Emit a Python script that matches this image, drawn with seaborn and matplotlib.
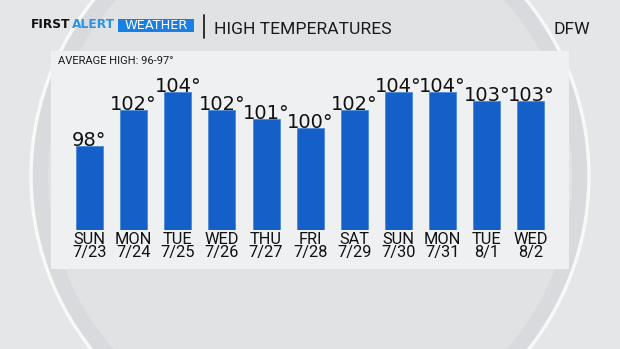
import matplotlib
matplotlib.use("Agg")
import matplotlib.pyplot as plt
from matplotlib.patches import Rectangle, Circle
import seaborn as sns
import pandas as pd

# ---- data ----
days = ["SUN", "MON", "TUE", "WED", "THU", "FRI", "SAT", "SUN", "MON", "TUE", "WED"]
dates = ["7/23", "7/24", "7/25", "7/26", "7/27", "7/28", "7/29", "7/30", "7/31", "8/1", "8/2"]
highs = [98, 102, 104, 102, 101, 100, 102, 104, 104, 103, 103]
title = "HIGH TEMPERATURES"
subtitle = "AVERAGE HIGH: 96-97°"
location = "DFW"

sns.set_theme(style="white")
plt.rcParams["font.family"] = ["Roboto", "DejaVu Sans"]

W, H = 620, 349
fig = plt.figure(figsize=(W / 100, H / 100), dpi=100)

# background layer in pixel coordinates
bg = fig.add_axes([0, 0, 1, 1])
bg.set_xlim(0, W)
bg.set_ylim(H, 0)
bg.axis("off")
bg.add_patch(Rectangle((0, 0), W, H, color="#e5e6e8", zorder=0))
bg.add_patch(Circle((310, 176), 279, facecolor="#d9dadd", edgecolor="#f8f8f9", lw=2.5, zorder=1))
bg.add_patch(Circle((310, 176), 262, facecolor="#e1e2e4", edgecolor="none", zorder=1.1))
bg.add_patch(Rectangle((51, 51), 518, 218, facecolor="#eef0f1", edgecolor="none", zorder=2))

# header
hdr = ["DejaVu Sans"]
bg.text(31, 28.5, "FIRST", fontsize=8.8, fontweight="bold", color="#111111", family=hdr, zorder=3)
bg.text(72, 28.5, "ALERT", fontsize=8.8, fontweight="bold", color="#2a93e6", family=hdr, zorder=3)
bg.add_patch(Rectangle((118, 19), 76, 12.5, facecolor="#1a7fe2", edgecolor="none", zorder=3))
bg.text(156, 29.3, "WEATHER", fontsize=9.3, color="white", ha="center", family=hdr, zorder=4)
bg.plot([204, 204], [15, 38], color="#222222", lw=1.3, zorder=3)
bg.text(214, 34.5, title, fontsize=12.6, color="#1a1a1a", zorder=3)
bg.text(590, 34.5, location, fontsize=12.6, color="#1a1a1a", ha="right", zorder=3)
bg.text(58, 64.5, subtitle, fontsize=8.0, color="#1a1a1a", zorder=3)

# bar axes
left_px, right_px = 67.4, 553.0
top_px, bottom_px = 50.0, 230.0
ax = fig.add_axes([left_px / W, (H - bottom_px) / H, (right_px - left_px) / W, (bottom_px - top_px) / H])
ax.patch.set_alpha(0)

df = pd.DataFrame({"label": [f"{d}\n{t}" for d, t in zip(days, dates)], "high": highs})
sns.barplot(data=df, x="label", y="high", color="#1560c8", width=0.61, ax=ax,
            edgecolor="#4c8ad9", linewidth=0.6, saturation=1)
ax.set_xlim(-0.5, len(highs) - 0.5)
ax.set_ylim(88.67, 108.67)
ax.set_xlabel("")
ax.set_ylabel("")
ax.set_yticks([])
for s in ax.spines.values():
    s.set_visible(False)
ax.tick_params(axis="x", length=0, pad=1.5)
for lab in ax.get_xticklabels():
    lab.set_fontsize(11.8)
    lab.set_color("#111111")
    lab.set_linespacing(0.82)

for p, v in zip(ax.patches, highs):
    ax.text(p.get_x() + p.get_width() / 2, v + 0.05, f"{v}°", ha="center", va="baseline",
            fontsize=14, color="#111111", family=["DejaVu Sans"])

fig.savefig("out.png", dpi=100)
